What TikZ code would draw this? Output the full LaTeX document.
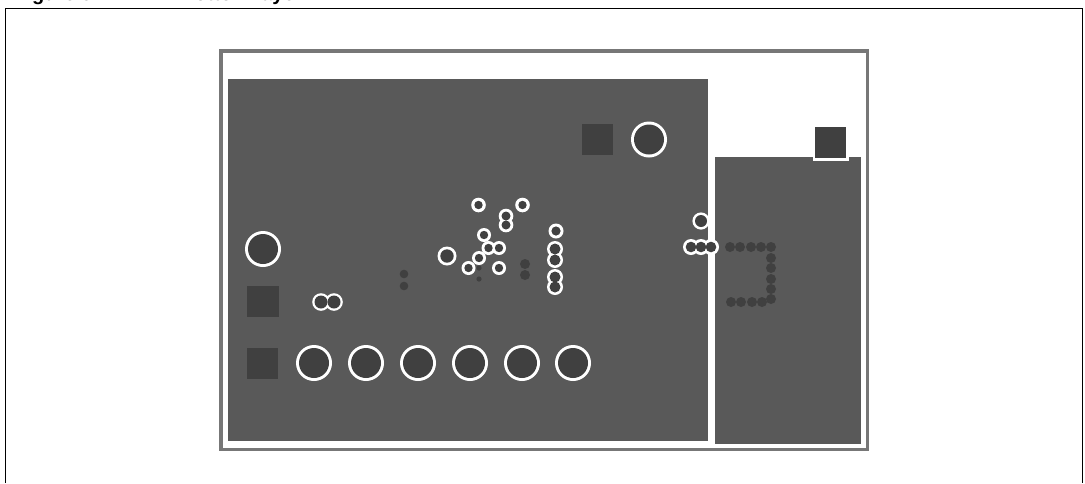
\documentclass[tikz,border=0pt]{standalone}
\usepackage{fontspec}
\setmainfont{Liberation Sans}
\definecolor{planegray}{RGB}{89,89,89}
\definecolor{padgray}{RGB}{64,64,64}
\definecolor{edgegray}{RGB}{119,119,119}
\tikzset{
  plane/.style={fill=planegray},
  pad/.style={fill=padgray},
  ring/.style={fill=white},
  hole/.style={fill=padgray},
  caption/.style={anchor=base west,inner sep=0pt,font=\fontsize{15}{18}\selectfont\bfseries}
}
\begin{document}
\begin{tikzpicture}[x=0.75pt,y=0.75pt,yscale=-1,xscale=1]
    \useasboundingbox (0,0) rectangle (1085,483);
    % Outer frame
    \draw [line width=1.1pt] (5.7,483) -- (5.7,8.3) -- (1082.3,8.3) -- (1082.3,483) ;
    % Board edge
    \draw [color=edgegray, line width=2.7pt] (221,51) -- (867.5,51) -- (867.5,449.5) -- (221,449.5) -- cycle ;
    % Copper planes
    \fill [plane] (228,79) rectangle (708,441) ;
    \fill [plane] (714.5,157) rectangle (861,443.5) ;
    % Notch and square pads
    \fill [white] (813,150) rectangle (849,161) ;
    \fill [pad] (815,127) rectangle (846,158) ;
    \fill [pad] (582,124) rectangle (613,155) ;
    \fill [pad] (247,286) rectangle (279,317) ;
    \fill [pad] (246.5,348) rectangle (278,379) ;

    % White clearances
    \fill [ring] (649,139.5) circle (18) ;
    \fill [ring] (263,249) circle (18) ;
    \fill [ring] (314,363) circle (18) ;
    \fill [ring] (366,363) circle (18) ;
    \fill [ring] (418,363) circle (18) ;
    \fill [ring] (470,363) circle (18) ;
    \fill [ring] (522,363) circle (18) ;
    \fill [ring] (573,363) circle (18) ;
    \fill [ring] (321,302) circle (8.8) ;
    \fill [ring] (334,302) circle (8.8) ;
    \fill [ring] (447,256) circle (9.5) ;
    \fill [ring] (478.5,205) circle (7.3) ;
    \fill [ring] (522.5,205) circle (7.3) ;
    \fill [ring] (506,216) circle (7.3) ;
    \fill [ring] (506,225) circle (7.3) ;
    \fill [ring] (484,235) circle (7) ;
    \fill [ring] (488.5,248) circle (7) ;
    \fill [ring] (499,248) circle (7) ;
    \fill [ring] (479,258) circle (7) ;
    \fill [ring] (468.5,268) circle (7) ;
    \fill [ring] (499,268) circle (7) ;
    \fill [ring] (556,231) circle (7.5) ;
    \fill [ring] (555,249) circle (8) ;
    \fill [ring] (555,260) circle (8) ;
    \fill [ring] (555,277) circle (8) ;
    \fill [ring] (555,287) circle (8) ;
    \fill [ring] (701,221) circle (8.6) ;
    \fill [ring] (691,247) circle (8) ;
    \fill [ring] (701,247) circle (8) ;
    \fill [ring] (711,247) circle (8) ;

    % Drill holes
    \fill [hole] (649,139.5) circle (15) ;
    \fill [hole] (263,249) circle (15) ;
    \fill [hole] (314,363) circle (15) ;
    \fill [hole] (366,363) circle (15) ;
    \fill [hole] (418,363) circle (15) ;
    \fill [hole] (470,363) circle (15) ;
    \fill [hole] (522,363) circle (15) ;
    \fill [hole] (573,363) circle (15) ;
    \fill [hole] (321,302) circle (6.5) ;
    \fill [hole] (334,302) circle (6.5) ;
    \fill [hole] (447,256) circle (6.7) ;
    \fill [hole] (478.5,205) circle (4.2) ;
    \fill [hole] (522.5,205) circle (4.2) ;
    \fill [hole] (506,216) circle (4.5) ;
    \fill [hole] (506,225) circle (4.5) ;
    \fill [hole] (484,235) circle (4.2) ;
    \fill [hole] (488.5,248) circle (4.2) ;
    \fill [hole] (499,248) circle (4.2) ;
    \fill [hole] (479,258) circle (4.2) ;
    \fill [hole] (468.5,268) circle (4.2) ;
    \fill [hole] (499,268) circle (4.2) ;
    \fill [hole] (556,231) circle (4.6) ;
    \fill [hole] (555,249) circle (5.5) ;
    \fill [hole] (555,260) circle (5.5) ;
    \fill [hole] (555,277) circle (5.5) ;
    \fill [hole] (555,287) circle (5.5) ;
    \fill [hole] (701,221) circle (6) ;
    \fill [hole] (691,247) circle (5.3) ;
    \fill [hole] (701,247) circle (5.3) ;
    \fill [hole] (711,247) circle (5.3) ;

    % Stitching vias
    \fill [hole] (404,274) circle (4.3) ;
    \fill [hole] (404,286) circle (4.3) ;
    \fill [hole] (479,268) circle (2.6) ;
    \fill [hole] (479,279) circle (2.6) ;
    \fill [hole] (525,264) circle (5) ;
    \fill [hole] (525,275) circle (5) ;
    \fill [hole] (730,247) circle (5) ;
    \fill [hole] (740,247) circle (5) ;
    \fill [hole] (751,247) circle (5) ;
    \fill [hole] (761,247) circle (5) ;
    \fill [hole] (771,247) circle (5) ;
    \fill [hole] (771,258) circle (5) ;
    \fill [hole] (771,268) circle (5) ;
    \fill [hole] (771,279) circle (5) ;
    \fill [hole] (771,289) circle (5) ;
    \fill [hole] (771,299) circle (5) ;
    \fill [hole] (731,302) circle (5) ;
    \fill [hole] (741,302) circle (5) ;
    \fill [hole] (752,302) circle (5) ;
    \fill [hole] (762,302) circle (5) ;

    % Text Nodes
    \node [caption] (figno) at (14,0.5) {Figure 5.};
    \node [caption] (figtitle) at (180,0.5) {Bottom layer};
\end{tikzpicture}
\end{document}
